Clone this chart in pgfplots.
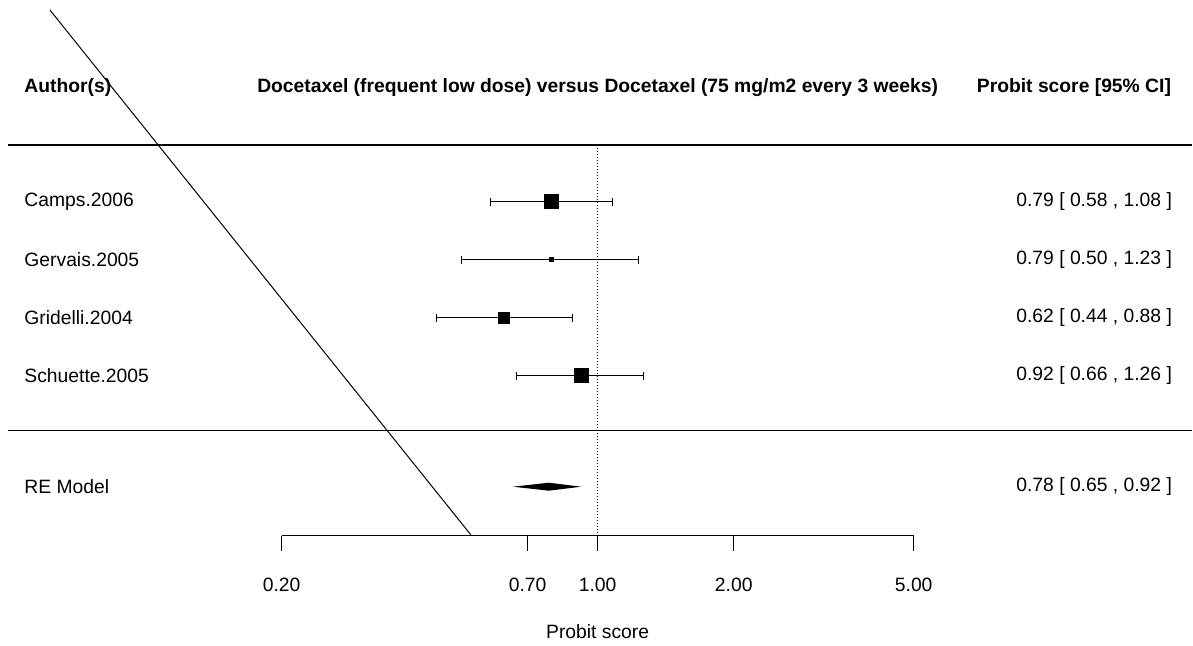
\documentclass[border=0pt]{standalone}
\usepackage{pgfplots}
\pgfplotsset{compat=1.18}
\usepackage{fontspec}
\setmainfont{Liberation Sans}
\begin{document}
\fontsize{9.65}{11.5}\selectfont
\begin{tikzpicture}
\begin{axis}[
  width=596.5pt, height=322.5pt, scale only axis,
  xmode=log, xmin=0.04768, xmax=20.66, ymin=0, ymax=645,
  hide axis, clip=false,
  every axis plot/.append style={line width=0.5pt},
]
\path (rel axis cs:0,0) rectangle (rel axis cs:1,1);
% diagonal artifact line
\addplot[black, no marks] coordinates {(0.06148,635) (0.5240,110)};
% horizontal separators
\addplot[black, no marks, line width=0.7pt] coordinates {(0.0497,500) (20.66,500)};
\addplot[black, no marks, line width=0.7pt] coordinates {(0.0497,214) (20.66,214)};
% reference line at 1
\addplot[black, no marks, densely dotted] coordinates {(1,500) (1,109)};
% x axis
\addplot[black, no marks] coordinates {(0.2,109) (5,109)};
\addplot[black, no marks] coordinates {(0.2,109) (0.2,94)};
\addplot[black, no marks] coordinates {(0.7,109) (0.7,94)};
\addplot[black, no marks] coordinates {(1,109) (1,94)};
\addplot[black, no marks] coordinates {(2,109) (2,94)};
\addplot[black, no marks] coordinates {(5,109) (5,94)};
% CIs
\addplot[black, mark=|, mark size=2pt] coordinates {(0.58,443) (1.08,443)};
\addplot[black, mark=|, mark size=2pt] coordinates {(0.50,385) (1.23,385)};
\addplot[black, mark=|, mark size=2pt] coordinates {(0.44,327) (0.88,327)};
\addplot[black, mark=|, mark size=2pt] coordinates {(0.66,269) (1.26,269)};
% point estimates
\addplot[only marks, mark=square*, mark size=3.5pt, black] coordinates {(0.79,443)};
\addplot[only marks, mark=square*, mark size=1pt, black] coordinates {(0.79,385)};
\addplot[only marks, mark=square*, mark size=2.75pt, black] coordinates {(0.62,327)};
\addplot[only marks, mark=square*, mark size=3.5pt, black] coordinates {(0.92,269)};
% RE diamond
\addplot[draw=none, fill=black, no marks] coordinates {(0.65,158) (0.78,162) (0.92,158) (0.78,154)} -- cycle;
% headers
\node[anchor=west, inner sep=0pt, font=\bfseries] at (axis cs:0.0539,557) {Author(s)};
\node[anchor=center, font=\bfseries] at (axis cs:1,557) {Docetaxel (frequent low dose) versus Docetaxel (75 mg/m2 every 3 weeks)};
\node[anchor=east, inner sep=0pt, font=\bfseries] at (axis cs:18.57,557) {Probit score [95\% CI]};
% study labels
\node[anchor=west, inner sep=0pt] at (axis cs:0.0539,443) {Camps.2006};
\node[anchor=west, inner sep=0pt] at (axis cs:0.0539,385) {Gervais.2005};
\node[anchor=west, inner sep=0pt] at (axis cs:0.0539,327) {Gridelli.2004};
\node[anchor=west, inner sep=0pt] at (axis cs:0.0539,269) {Schuette.2005};
\node[anchor=west, inner sep=0pt] at (axis cs:0.0539,158) {RE Model};
% right column
\node[anchor=east, inner sep=0pt] at (axis cs:18.66,443) {0.79 [ 0.58 , 1.08 ]};
\node[anchor=east, inner sep=0pt] at (axis cs:18.66,385) {0.79 [ 0.50 , 1.23 ]};
\node[anchor=east, inner sep=0pt] at (axis cs:18.66,327) {0.62 [ 0.44 , 0.88 ]};
\node[anchor=east, inner sep=0pt] at (axis cs:18.66,269) {0.92 [ 0.66 , 1.26 ]};
\node[anchor=east, inner sep=0pt] at (axis cs:18.66,158) {0.78 [ 0.65 , 0.92 ]};
% tick labels
\node at (axis cs:0.2,60) {0.20};
\node at (axis cs:0.7,60) {0.70};
\node at (axis cs:1,60) {1.00};
\node at (axis cs:2,60) {2.00};
\node at (axis cs:5,60) {5.00};
\node at (axis cs:1,13) {Probit score};
\end{axis}
\end{tikzpicture}
\end{document}
